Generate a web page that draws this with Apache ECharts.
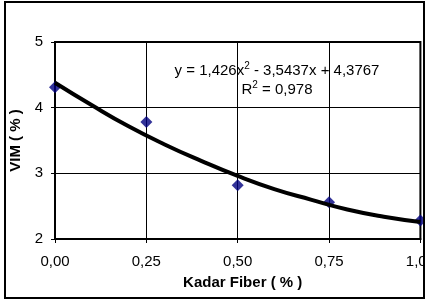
<!DOCTYPE html>
<html>
<head>
<meta charset="utf-8">
<script src="https://cdn.jsdelivr.net/npm/echarts@6/dist/echarts.min.js"></script>
<style>
  html, body { margin: 0; padding: 0; background: #fff; }
  #chart { width: 438px; height: 301px; }
</style>
</head>
<body>
<div id="chart"></div>
<script>
// measured points
const kadarFiber = [0, 0.25, 0.5, 0.75, 1.0]
const vim = [4.31, 3.78, 2.82, 2.56, 2.28]

// polynomial trendline
const trendX = [0, 0.1, 0.2, 0.3, 0.4, 0.5, 0.6, 0.7, 0.8, 0.9, 1.0]
const trendY = [4.38, 4.04, 3.72, 3.44, 3.19, 2.96, 2.76, 2.60, 2.45, 2.34, 2.26]

const xTicks = ['0,00', '0,25', '0,50', '0,75', '1,00']
const yTicks = ['2', '3', '4', '5']

const fontFamily = '"Liberation Sans", Arial, sans-serif'

const chart = echarts.init(document.getElementById('chart'))

const option = {
  backgroundColor: '#fff',
  animation: false,
  grid: {
    left: 55,
    right: 17,
    top: 42,
    bottom: 62,
    show: true,
    borderColor: '#000',
    borderWidth: 2
  },
  xAxis: {
    type: 'value',
    min: 0,
    max: 1,
    interval: 0.25,
    name: 'Kadar Fiber ( % )',
    nameLocation: 'middle',
    nameGap: 36,
    nameTextStyle: { fontFamily, fontSize: 15, fontWeight: 'bold', color: '#000', padding: [0, 0, 0, 10] },
    axisLine: { lineStyle: { color: '#000', width: 2 } },
    axisTick: { show: true, length: 4, lineStyle: { color: '#000', width: 1 } },
    axisLabel: {
      fontFamily, fontSize: 15, color: '#000', margin: 15,
      formatter: function(v) {
        return xTicks[Math.round(v / 0.25)]
      }
    },
    splitLine: { show: true, lineStyle: { color: '#000', width: 1 } }
  },
  yAxis: {
    type: 'value',
    min: 2,
    max: 5,
    interval: 1,
    name: 'VIM ( % )',
    nameLocation: 'middle',
    nameGap: 20,
    nameTextStyle: { fontFamily, fontSize: 15, fontWeight: 'bold', color: '#000' },
    axisLine: { show: true, lineStyle: { color: '#000', width: 2 } },
    axisTick: { show: true, length: 4, lineStyle: { color: '#000', width: 1 } },
    axisLabel: {
      fontFamily, fontSize: 15, color: '#000', margin: 12,
      formatter: function(v) {
        return yTicks[Math.round(v - 2)]
      }
    },
    splitLine: { show: true, lineStyle: { color: '#000', width: 1 } }
  },
  series: [
    {
      name: 'VIM',
      type: 'scatter',
      clip: false,
      symbol: 'diamond',
      symbolSize: 12,
      itemStyle: { color: '#000080' },
      data: kadarFiber.map((x, i) => [x, vim[i]]),
      z: 2
    },
    {
      name: 'Poly. (VIM)',
      type: 'line',
      smooth: true,
      showSymbol: false,
      clip: false,
      lineStyle: { color: '#000', width: 4 },
      data: trendX.map((x, i) => [x, trendY[i]]),
      z: 3
    }
  ],
  graphic: [
    {
      type: 'text',
      x: 277,
      y: 61,
      z: 50,
      style: {
        text: '{a|y = 1,426x}{s|2}{a| - 3,5437x + 4,3767}\n{a|R}{s|2}{a| = 0,978}',
        align: 'center',
        verticalAlign: 'top',
        rich: {
          a: { fontFamily, fontSize: 15, color: '#000', lineHeight: 19 },
          s: { fontFamily, fontSize: 10, color: '#000', lineHeight: 19, verticalAlign: 'top', padding: [0, 0, 6, 0] }
        }
      }
    },
    {
      // white out what falls outside the chart border
      type: 'rect',
      z: 90,
      shape: { x: 425, y: 0, width: 13, height: 301 },
      style: { fill: '#fff' }
    },
    {
      type: 'rect',
      z: 100,
      shape: { x: 5, y: 2, width: 419, height: 296 },
      style: { fill: 'none', stroke: '#000', lineWidth: 2 }
    }
  ]
}

chart.setOption(option)
</script>
</body>
</html>
